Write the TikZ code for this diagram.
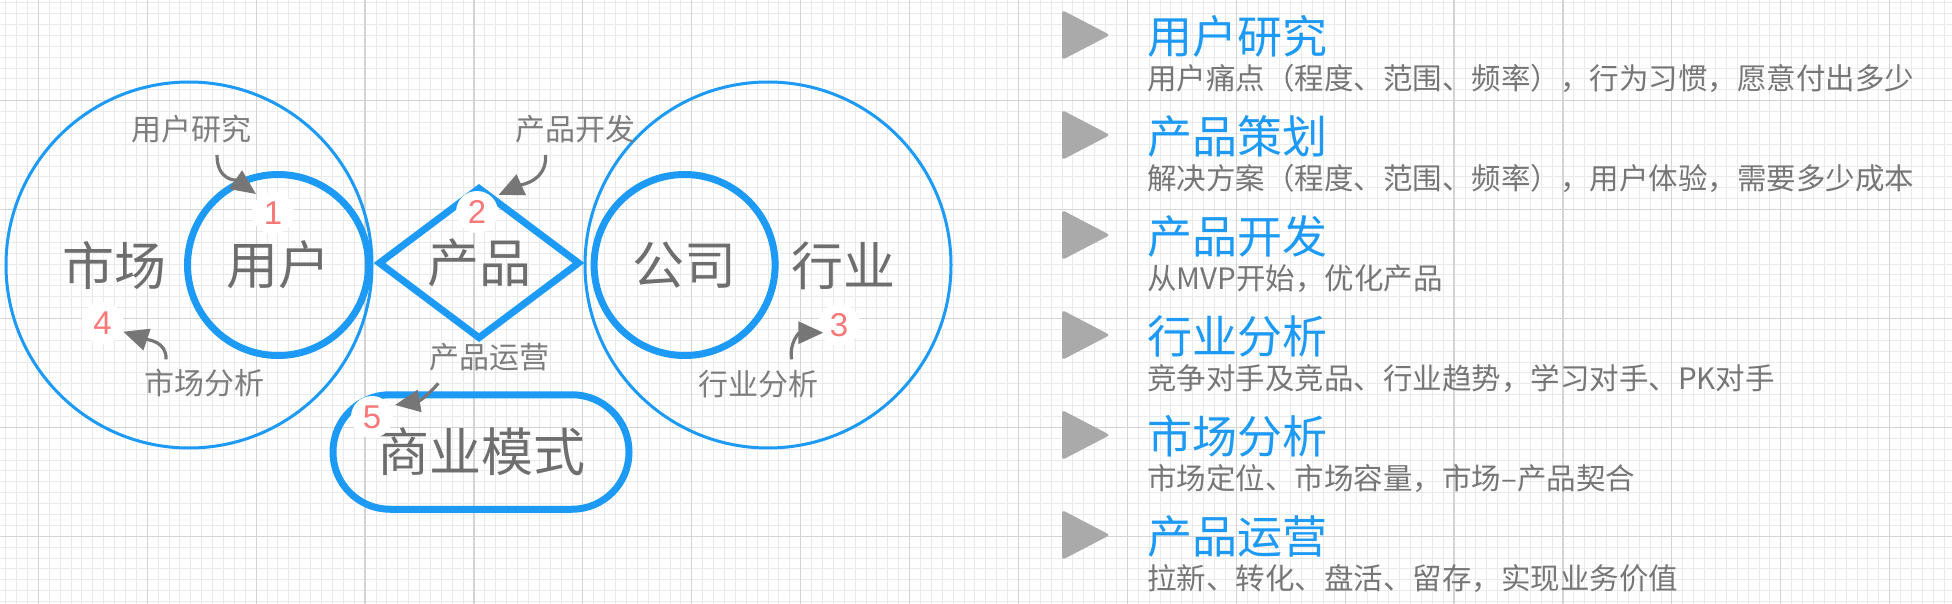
\documentclass[tikz,border=0pt]{standalone}
\usepackage{fontspec}
\setmainfont{Noto Sans CJK SC}
\newfontfamily\numfont{Liberation Sans}
\usetikzlibrary{arrows.meta,shapes.geometric}
\definecolor{blu}{RGB}{28,154,246}
\definecolor{bigtxt}{RGB}{110,110,110}
\definecolor{labtxt}{RGB}{125,125,125}
\definecolor{desctxt}{RGB}{118,118,118}
\definecolor{numc}{RGB}{250,120,120}
\definecolor{arrc}{RGB}{118,118,118}
\definecolor{trig}{RGB}{170,170,170}
\definecolor{gminorc}{RGB}{234,234,234}
\definecolor{gmajorc}{RGB}{212,212,212}
\begin{document}
\begin{tikzpicture}[x=1pt,y=-1pt,
  gminor/.style={draw=gminorc,line width=1},
  gmajor/.style={draw=gmajorc,line width=1.2},
  bigc/.style={circle,draw=blu,line width=3,minimum size=366,inner sep=0},
  innc/.style={circle,draw=blu,line width=7,minimum size=181,inner sep=0},
  bigt/.style={text=bigtxt,font=\fontsize{52}{60}\selectfont,inner sep=0},
  labt/.style={text=labtxt,font=\fontsize{30}{36}\selectfont,inner sep=0},
  numb/.style={circle,fill=white,minimum size=42,inner sep=0,text=numc,font=\numfont\fontsize{33}{38}\selectfont},
  headt/.style={anchor=west,text=blu,font=\fontsize{45}{54}\selectfont,inner sep=0},
  desct/.style={anchor=west,text=desctxt,font=\fontsize{29.5}{36}\selectfont,inner sep=0},
  arr/.style={draw=arrc,line width=3.2,-{Triangle[length=25,width=22]}},
  trishape/.style={fill=trig,rounded corners=3}
]
\useasboundingbox (0,0) rectangle (1952,604);
\fill[white] (0,0) rectangle (1952,604);
% grid
\foreach \i in {0,...,179} {\draw[gminor] ({5.74+\i*10.89},0) -- ++(0,604);}
\foreach \i in {0,...,55} {\draw[gminor] (0,{2.7+\i*10.89}) -- ++(1952,0);}
\foreach \i in {0,...,17} {\draw[gmajor] ({38.3+\i*108.9},0) -- ++(0,604);}
\foreach \i in {0,...,4} {\draw[gmajor] (0,{100.7+\i*108.9}) -- ++(1952,0);}

% big circles
\node[bigc] (mkc) at (189,265) {};
\node[bigc] (hyc) at (768,265) {};
% inner circles
\node[innc,bigt] (yh) at (278,265) {用户};
\node[innc,bigt] (gs) at (684.6,265) {公司};
% diamond
\node[diamond,draw=blu,line width=7,minimum width=202,minimum height=128,bigt] (cp) at (479,263) {产品};
% stadium
\node[draw=blu,line width=7,rounded corners=57,minimum width=296,minimum height=114.5,bigt] (bm) at (481,452) {商业模式};
% outer texts
\node[bigt] (sc) at (114.6,266) {市场};
\node[bigt] (hy) at (843,266) {行业};
% small labels
\node[labt] (l1) at (191,129) {用户研究};
\node[labt] (l2) at (575,129) {产品开发};
\node[labt] (l5) at (489,357.5) {产品运营};
\node[labt] (l4) at (204.7,383) {市场分析};
\node[labt] (l3) at (758,384) {行业分析};
% numbers
\node[numb] (n1) at (273,213) {1};
\node[numb] (n2) at (477,212) {2};
\node[numb] (n3) at (839,325) {3};
\node[numb] (n4) at (102.5,323) {4};
\node[numb] (n5) at (372,417) {5};
% arrows
\coordinate (a1s) at (217,155); \coordinate (a1e) at (256,194);
\coordinate (a2s) at (545.5,155); \coordinate (a2e) at (498.5,195);
\coordinate (a3s) at (791.7,359.3); \coordinate (a3e) at (823.3,332.7);
\coordinate (a4s) at (166,359.3); \coordinate (a4e) at (123.3,331.7);
\coordinate (a5s) at (438.3,383.3); \coordinate (a5e) at (395,405);
\draw[arr] (a1s) .. controls +(0,26) and +(-20,-14) .. (a1e);
\draw[arr] (a2s) .. controls +(2,26) and +(22,-10) .. (a2e);
\draw[arr] (a3s) .. controls +(-3,-16) and +(-24,0) .. (a3e);
\draw[arr] (a4s) .. controls +(1,-18) and +(24,8) .. (a4e);
\draw[arr] (a5s) .. controls +(-12,14) and +(24,-4) .. (a5e);

% right panel
\foreach \k in {0,...,5} {\fill[trishape] (1062,{10+100*\k}) -- (1110,{35+100*\k}) -- (1062,{60+100*\k}) -- cycle;}
\node[headt] (h1) at (1147,36.7) {用户研究};
\node[desct] (d1) at (1147,78.3) {用户痛点（程度、范围、频率），行为习惯，愿意付出多少};
\node[headt] (h2) at (1147,136.7) {产品策划};
\node[desct] (d2) at (1147,178.3) {解决方案（程度、范围、频率），用户体验，需要多少成本};
\node[headt] (h3) at (1147,236.7) {产品开发};
\node[desct] (d3) at (1147,278.3) {从MVP开始，优化产品};
\node[headt] (h4) at (1147,336.7) {行业分析};
\node[desct] (d4) at (1147,378.3) {竞争对手及竞品、行业趋势，学习对手、PK对手};
\node[headt] (h5) at (1147,436.7) {市场分析};
\node[desct] (d5) at (1147,478.3) {市场定位、市场容量，市场–产品契合};
\node[headt] (h6) at (1147,536.7) {产品运营};
\node[desct] (d6) at (1147,578.3) {拉新、转化、盘活、留存，实现业务价值};
\end{tikzpicture}
\end{document}
